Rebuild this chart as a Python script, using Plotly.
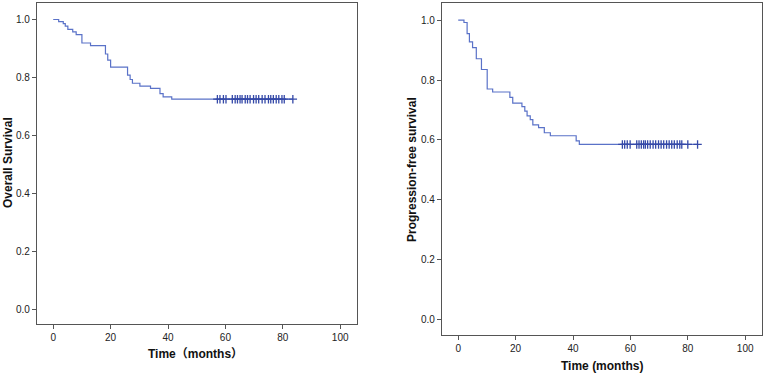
import plotly.graph_objects as go
import numpy as np

# ---- Data ----
os_event_times = [0, 1.9, 3.5, 4.2, 5.1, 6.8, 8.0, 10.0, 13.0, 18.2, 19.0, 20.0,
                  25.9, 26.8, 27.6, 30.2, 33.9, 37.2, 38.3, 41.3]
os_survival = [1.0, 0.993, 0.986, 0.977, 0.966, 0.957, 0.948, 0.919, 0.910, 0.881,
               0.860, 0.836, 0.808, 0.793, 0.780, 0.770, 0.762, 0.744, 0.733, 0.725]
os_censor_times = [57.2, 58.1, 59.3, 60.2, 62.4, 63.4, 64.2, 65.1, 65.8, 66.9, 67.7,
                   68.6, 69.8, 70.7, 71.6, 72.8, 73.8, 75.0, 75.8, 76.7, 77.7, 78.6,
                   79.7, 80.5, 83.5]

pfs_event_times = [0, 2.0, 3.1, 3.9, 5.0, 6.3, 8.1, 10.1, 12.0, 18.0, 19.0, 22.2,
                   23.2, 24.0, 25.1, 26.0, 28.0, 30.0, 32.1, 41.1, 42.2]
pfs_survival = [1.0, 0.992, 0.955, 0.927, 0.908, 0.871, 0.835, 0.770, 0.760, 0.742,
                0.723, 0.711, 0.696, 0.680, 0.668, 0.650, 0.641, 0.624, 0.614, 0.597, 0.585]
pfs_censor_times = [57.2, 58.0, 58.9, 59.9, 62.2, 63.0, 63.8, 64.6, 65.2, 66.0, 66.9,
                    67.9, 68.8, 69.8, 70.7, 71.6, 72.6, 73.5, 74.4, 75.3, 76.3, 77.2,
                    77.9, 80.0, 83.4]

x_ticks = [0, 20, 40, 60, 80, 100]
y_ticks = [0.0, 0.2, 0.4, 0.6, 0.8, 1.0]

titles_x = ["Time（months）", "Time (months)"]
titles_y = ["Overall Survival", "Progression-free survival"]

LINE_COLOR = "#5a72c8"
MARK_COLOR = "#3549a8"
FRAME = "#555555"
FONT = "Liberation Sans, Arial, Noto Sans CJK SC, sans-serif"


def step_at(times, surv, t):
    idx = np.searchsorted(np.array(times), t, side="right") - 1
    return surv[max(idx, 0)]


def curve(times, surv, censor, xa, ya):
    xs = list(times) + [max(censor)]
    ys = list(surv) + [surv[-1]]
    line = go.Scatter(x=xs, y=ys, mode="lines", line=dict(color=LINE_COLOR, width=1.2, shape="hv"),
                      xaxis=xa, yaxis=ya, hoverinfo="skip", showlegend=False)
    cy = [step_at(times, surv, t) for t in censor]
    marks = go.Scatter(x=censor, y=cy, mode="markers",
                       marker=dict(symbol="cross-thin", size=6,
                                   line=dict(color=MARK_COLOR, width=1.3)),
                       xaxis=xa, yaxis=ya, hoverinfo="skip", showlegend=False)
    return [line, marks]


fig = go.Figure()
for tr in curve(os_event_times, os_survival, os_censor_times, "x", "y"):
    fig.add_trace(tr)
for tr in curve(pfs_event_times, pfs_survival, pfs_censor_times, "x2", "y2"):
    fig.add_trace(tr)

W, H = 765, 375


def xax(l, r, anchor):
    return dict(domain=[l / W, r / W], range=[-5.65, 105.85], tickvals=x_ticks,
                ticktext=[str(v) for v in x_ticks], anchor=anchor, automargin=False,
                showgrid=False, zeroline=False, showline=True, mirror=True,
                linecolor=FRAME, linewidth=1.2, ticks="outside", ticklen=4,
                tickcolor=FRAME, tickfont=dict(size=10, color="#222222", family=FONT))


def yax(b, t, anchor):
    return dict(domain=[1 - b / H, 1 - t / H], range=[-0.051, 1.057], tickvals=y_ticks,
                ticktext=[f"{v:.1f}" for v in y_ticks], anchor=anchor, automargin=False,
                showgrid=False, zeroline=False, showline=True, mirror=True,
                linecolor=FRAME, linewidth=1.2, ticks="outside", ticklen=4,
                tickcolor=FRAME, tickfont=dict(size=10, color="#222222", family=FONT))


def title_ann(text, px, py, angle=0):
    return dict(text=f"<b>{text}</b>", x=px / W, y=1 - py / H, xref="paper", yref="paper",
                showarrow=False, textangle=angle, xanchor="center", yanchor="middle",
                font=dict(size=12, color="#111111", family=FONT))


fig.update_layout(
    width=W, height=H, margin=dict(l=0, r=0, t=0, b=0, autoexpand=False),
    paper_bgcolor="white", plot_bgcolor="white",
    xaxis=xax(37, 357, "y"),
    yaxis=yax(324, 3, "x"),
    xaxis2=xax(442, 762, "y2"),
    yaxis2=yax(335, 3, "x2"),
    annotations=[
        title_ann(titles_x[0], 196, 354),
        title_ann(titles_y[0], 8, 163, -90),
        title_ann(titles_x[1], 602, 366),
        title_ann(titles_y[1], 412, 170, -90),
    ],
)

fig.write_html("out.html", config={"displayModeBar": False},
               post_script="document.body.style.margin='0';document.body.style.overflow='hidden';")
